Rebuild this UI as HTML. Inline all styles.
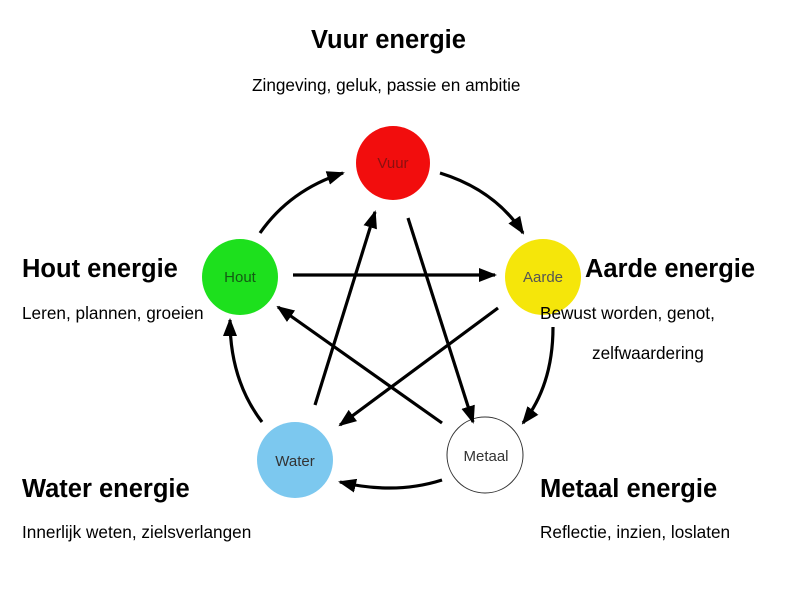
<!DOCTYPE html>
<html><head><style>
body{margin:0;background:#fff;width:800px;height:593px;overflow:hidden;font-family:"Liberation Sans",sans-serif;position:relative}
.t{position:absolute;font-weight:bold;font-size:25.5px;color:#000;white-space:nowrap}
.s{position:absolute;font-size:17.2px;color:#000;white-space:nowrap}
svg{position:absolute;left:0;top:0}
</style></head><body>
<svg width="800" height="593">
<defs>
<marker id="b" markerWidth="18" markerHeight="14" refX="16" refY="7" orient="auto" markerUnits="userSpaceOnUse"><path d="M0,0L18,7L0,14z"/></marker></defs>
<circle cx="393" cy="163" r="37" fill="#f20d0d"/>
<circle cx="240" cy="277" r="38" fill="#1de01d"/>
<circle cx="543" cy="277" r="38" fill="#f5e60a"/>
<circle cx="295" cy="460" r="38" fill="#7cc8ef"/>
<circle cx="485" cy="455" r="38" fill="#fff" stroke="#333" stroke-width="1"/>
<g font-family="Liberation Sans" font-size="15" text-anchor="middle" fill="#333">
<text x="393" y="168" fill="#8a1010">Vuur</text>
<text x="240" y="282" fill="#145a14">Hout</text>
<text x="543" y="282" fill="#555">Aarde</text>
<text x="295" y="466">Water</text>
<text x="486" y="461">Metaal</text>
</g>
<g stroke="#000" stroke-width="3.2" fill="none" marker-end="url(#b)">
<path d="M260,233 Q290,190 343,173"/>
<path d="M440,173 Q495,190 523,233"/>
<path d="M553,327 Q553,385 523,423"/>
<path d="M442,480 Q395,495 340,482"/>
<path d="M262,422 Q230,380 230,320"/>
<path d="M293,275 L495,275"/>
<path d="M315,405 L375,212"/>
<path d="M408,218 L473,422"/>
<path d="M442,423 L278,307"/>
<path d="M498,308 L340,425"/>
</g>
</svg>
<div class="t" style="left:311px;top:26px">Vuur energie</div>
<div class="s" style="left:252px;top:75px">Zingeving, geluk, passie en ambitie</div>
<div class="t" style="left:22px;top:255px">Hout energie</div>
<div class="s" style="left:22px;top:303px">Leren, plannen, groeien</div>
<div class="t" style="left:585px;top:255px">Aarde energie</div>
<div class="s" style="left:540px;top:303px">Bewust worden, genot,</div>
<div class="s" style="left:592px;top:343px">zelfwaardering</div>
<div class="t" style="left:22px;top:475px">Water energie</div>
<div class="s" style="left:22px;top:522px">Innerlijk weten, zielsverlangen</div>
<div class="t" style="left:540px;top:475px">Metaal energie</div>
<div class="s" style="left:540px;top:522px">Reflectie, inzien, loslaten</div>
</body></html>
